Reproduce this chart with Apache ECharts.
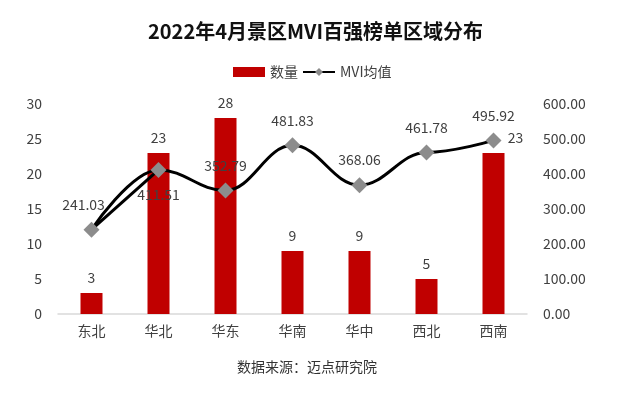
<!DOCTYPE html>
<html>
<head>
<meta charset="utf-8">
<script src="https://cdn.jsdelivr.net/npm/echarts@6/dist/echarts.min.js"></script>
<style>
  html, body { margin: 0; padding: 0; background: #fff; }
  #chart { width: 641px; height: 398px; }
</style>
</head>
<body>
<div id="chart"></div>
<script>
const regions = ['东北', '华北', '华东', '华南', '华中', '西北', '西南'];
const counts = [3, 23, 28, 9, 9, 5, 23];
const mviAvg = [241.03, 411.51, 352.79, 481.83, 368.06, 461.78, 495.92];
// where each MVI label sits relative to its point
const mviLabelPos = ['top', 'bottom', 'top', 'top', 'top', 'top', 'top'];
const mviLabelShift = [[-8, 0], [0, 0], [0, 0], [0, 0], [0, 0], [0, 0], [0, 0]];

const font = 'Noto Sans CJK SC';
const myChart = echarts.init(document.getElementById('chart'));

const option = {
  animation: false,
  backgroundColor: '#fff',
  textStyle: { fontFamily: font },
  title: {
    text: '2022年4月景区MVI百强榜单区域分布',
    left: 143,
    top: 16,
    textStyle: { fontSize: 20, fontWeight: 'bold', color: '#111', fontFamily: font }
  },
  legend: {
    top: 60,
    left: 228,
    itemGap: 4,
    itemWidth: 32,
    itemHeight: 10,
    textStyle: { fontSize: 14, color: '#404040', fontFamily: font },
    data: [
      { name: '数量', icon: 'rect' },
      { name: 'MVI均值' }
    ]
  },
  graphic: [{
    type: 'text',
    left: 237,
    top: 360,
    style: { text: '数据来源：迈点研究院', fontSize: 14, fill: '#333', fontFamily: font }
  }],
  grid: { left: 58, right: 114, top: 104, bottom: 84 },
  xAxis: {
    type: 'category',
    data: regions,
    axisLine: { lineStyle: { color: '#d9d9d9', width: 1.5 } },
    axisTick: { show: false },
    axisLabel: { fontSize: 14, color: '#404040', margin: 10 }
  },
  yAxis: [
    {
      type: 'value', min: 0, max: 30, interval: 5,
      splitLine: { show: false },
      axisLine: { show: false },
      axisLabel: { fontSize: 14, color: '#404040', margin: 16 }
    },
    {
      type: 'value', min: 0, max: 600, interval: 100,
      splitLine: { show: false },
      axisLine: { show: false },
      axisLabel: { fontSize: 14, color: '#404040', margin: 16, formatter: v => v.toFixed(2) }
    }
  ],
  series: [
    {
      name: '数量',
      type: 'bar',
      data: counts.map((v, i) => i === counts.length - 1
        ? { value: v, label: { position: 'top', offset: [22, 0] } }
        : v),
      barWidth: 22,
      itemStyle: { color: '#c00000' },
      label: { show: true, position: 'top', distance: 8, fontSize: 14, color: '#404040' }
    },
    {
      // first stretch of the line (东北 -> 华北), drawn on its own
      name: 'MVI均值-起段',
      type: 'line',
      yAxisIndex: 1,
      data: mviAvg.map((v, i) => i < 2 ? v : null),
      symbol: 'none',
      clip: false,
      silent: true,
      lineStyle: { color: '#000', width: 3 },
      z: 3
    },
    {
      name: 'MVI均值',
      type: 'line',
      yAxisIndex: 1,
      smooth: 0.4,
      smoothMonotone: 'x',
      data: mviAvg.map((v, i) => ({
        value: v,
        label: { position: mviLabelPos[i], offset: mviLabelShift[i] }
      })),
      symbol: 'diamond',
      symbolSize: 16,
      lineStyle: { color: '#000', width: 3 },
      itemStyle: { color: '#8c8c8c' },
      label: {
        show: true, distance: 10, fontSize: 14, color: '#404040',
        textBorderWidth: 0, textBorderColor: 'transparent',
        formatter: p => mviAvg[p.dataIndex].toFixed(2)
      },
      z: 4
    }
  ]
};

myChart.setOption(option);
</script>
</body>
</html>
